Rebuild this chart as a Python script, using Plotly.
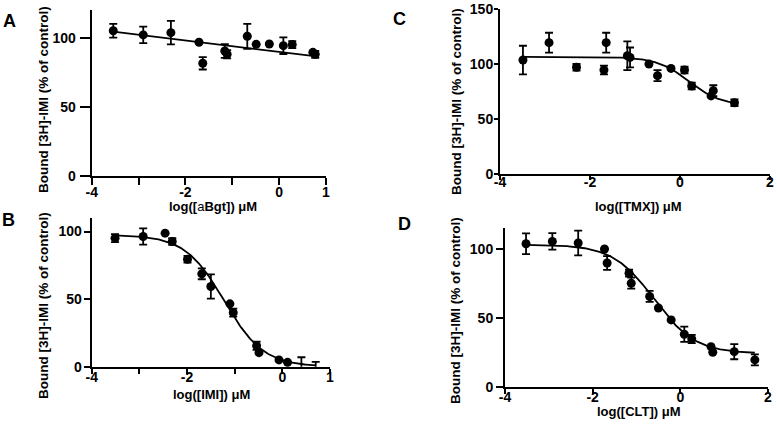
import numpy as np
import plotly.graph_objects as go

# ---------------- data ----------------
# Panel A: aBgt
a_x = [-3.54, -2.90, -2.31, -1.71, -1.63, -1.16, -1.11, -0.68, -0.49, -0.21, 0.09, 0.28, 0.72, 0.77]
a_y = [105, 102, 103.6, 96.7, 81.5, 90.4, 88, 101, 95.2, 95.4, 94.2, 95, 89.4, 88]
a_err = [5, 6, 8.5, 0, 4.5, 5, 3, 9, 0, 0, 6, 2.5, 0, 2.5]
a_fit_intercept = 89.75
a_fit_slope = -4.11
a_fit_range = (-3.54, 0.84)

# Panel B: IMI
b_x = [-3.51, -2.92, -2.46, -2.31, -1.99, -1.69, -1.50, -1.10, -1.03, -0.54, -0.49, -0.07, 0.11, 0.40, 0.70]
b_y = [95.1, 96.3, 98.8, 92.6, 79.5, 68.7, 59.3, 46.5, 40, 15.5, 10.4, 5, 3.2, -2.5, -2.5]
b_err_plus = [3, 6, 0, 2.5, 2.5, 4, 9, 0, 3, 3, 0, 0, 0, 9.5, 6]
b_err_minus = [3, 6, 0, 2.5, 2.5, 4, 9, 0, 3, 3, 0, 0, 0, 0, 0]
b_fit = dict(top=97.5, bottom=0.0, logic50=-1.22, hill=1.05)
b_fit_range = (-3.51, 0.70)

# Panel C: TMX
c_x = [-3.49, -2.91, -2.30, -1.69, -1.64, -1.17, -1.11, -0.69, -0.50, -0.20, 0.10, 0.26, 0.69, 0.74, 1.21]
c_y = [103.6, 119.4, 97, 94.5, 119.4, 107.5, 106, 100, 89.4, 96, 94.5, 80, 71, 75.7, 64.8]
c_err = [13, 9, 3, 4, 9, 13, 9, 0, 5, 0, 3, 3, 0, 5, 3]
c_fit = dict(top=106.5, bottom=62.0, logic50=0.2, hill=1.2)
c_fit_range = (-3.49, 1.21)

# Panel D: CLT
d_x = [-3.52, -2.92, -2.33, -1.73, -1.67, -1.17, -1.12, -0.70, -0.50, -0.21, 0.09, 0.26, 0.70, 0.74, 1.23, 1.70]
d_y = [103.6, 105.3, 104.1, 99.8, 89.6, 82.3, 75, 65.4, 57, 48.4, 38, 34.6, 29, 25, 25.4, 19.4]
d_err = [7.5, 6, 9, 0, 5, 2.5, 4, 4, 0, 0, 5.5, 3, 0, 0, 5.5, 4]
d_fit = dict(top=103.0, bottom=24.0, logic50=-0.6, hill=0.92)
d_fit_range = (-3.52, 1.70)

y_title = "Bound [3H]-IMI (% of control)"
x_titles = ["log([<span style='font-weight:normal'>a</span>Bgt]) μM", "log([IMI]) μM",
            "log([TMX]) μM", "log([CLT]) μM"]
panel_letters = ["A", "B", "C", "D"]

# ---------------- helpers ----------------
W, H = 777, 424
FONT = "Arial, Liberation Sans, sans-serif"


def px(x):
    return x / W


def py(y):
    return 1 - y / H


def logistic(x, top, bottom, logic50, hill):
    return bottom + (top - bottom) / (1 + 10 ** (hill * (x - logic50)))


fig = go.Figure()


def add_panel(i, xs, ys, eplus, eminus, fit_x, fit_y):
    xa = "x" if i == 1 else f"x{i}"
    ya = "y" if i == 1 else f"y{i}"
    fig.add_trace(go.Scatter(x=fit_x, y=fit_y, mode="lines", xaxis=xa, yaxis=ya,
                             line=dict(color="black", width=1.8), showlegend=False,
                             hoverinfo="skip"))
    fig.add_trace(go.Scatter(x=xs, y=ys, mode="markers", xaxis=xa, yaxis=ya,
                             marker=dict(color="black", size=9),
                             error_y=dict(type="data", array=eplus, arrayminus=eminus,
                                          symmetric=False, color="black", thickness=1.8, width=4),
                             cliponaxis=False, showlegend=False))


# A
fa = np.linspace(a_fit_range[0], a_fit_range[1], 60)
add_panel(1, a_x, a_y, a_err, a_err, fa, a_fit_intercept + a_fit_slope * fa)
# B
fb = np.linspace(b_fit_range[0], b_fit_range[1], 200)
add_panel(2, b_x, b_y, b_err_plus, b_err_minus, fb, logistic(fb, **b_fit))
# C
fc = np.linspace(c_fit_range[0], c_fit_range[1], 200)
add_panel(3, c_x, c_y, c_err, c_err, fc, logistic(fc, **c_fit))
# D
fd = np.linspace(d_fit_range[0], d_fit_range[1], 200)
add_panel(4, d_x, d_y, d_err, d_err, fd, logistic(fd, **d_fit))

tickfont = dict(family=FONT, size=14, color="black", weight="bold")
axis_common = dict(showline=True, linecolor="black", linewidth=2, ticks="outside",
                   tickwidth=2, tickcolor="black", showgrid=False,
                   zeroline=False, tickfont=tickfont, automargin=False)

# pixel boxes: (x_left, x_right, y_bottom, y_top)
boxes = [(91.7, 326, 176, 10), (91.7, 330, 366.7, 218),
         (500, 770, 174, 9), (505, 768, 386.7, 228)]
xranges = [[-4, 1], [-4, 1], [-4, 2], [-4, 2]]
yranges = [[0, 120], [0, 110], [0, 150], [0, 115]]
xtickvals = [[-4, -3, -2, -1, 0, 1], [-4, -3, -2, -1, 0, 1], [-4, -2, 0, 2], [-4, -2, 0, 2]]
xticktext = [["-4", "", "-2", "", "0", "1"], ["-4", "", "-2", "", "0", "1"],
             ["-4", "-2", "0", "2"], ["-4", "-2", "0", "2"]]
ytickvals = [[0, 50, 100], [0, 50, 100], [0, 50, 100, 150], [0, 50, 100]]
x_ticklen = [7, 5, 4, 5]
y_ticklen = [10, 6, 4, 7]
x_standoff = [-5, -9, -10, -9]
y_standoff = [1, -1, -2, 0]

layout = {}
for i in range(4):
    xl, xr, yb, yt = boxes[i]
    xn = "xaxis" if i == 0 else f"xaxis{i+1}"
    yn = "yaxis" if i == 0 else f"yaxis{i+1}"
    anchor_x = "y" if i == 0 else f"y{i+1}"
    anchor_y = "x" if i == 0 else f"x{i+1}"
    layout[xn] = dict(axis_common, domain=[px(xl), px(xr)], range=xranges[i],
                      tickvals=xtickvals[i], ticktext=xticktext[i], anchor=anchor_x,
                      ticklen=x_ticklen[i], ticklabelstandoff=x_standoff[i])
    layout[yn] = dict(axis_common, domain=[py(yb), py(yt)], range=yranges[i],
                      tickvals=ytickvals[i], anchor=anchor_y,
                      ticklen=y_ticklen[i], ticklabelstandoff=y_standoff[i])

annotations = []
ytitle_pos = [(43, 100), (43, 306), (456, 102), (455, 311)]
xtitle_pos = [(213, 206), (211, 394), (638, 206), (639, 411)]
letter_pos = [(9, 21), (8, 220), (399, 19), (404, 224)]
for i in range(4):
    annotations.append(dict(text=y_title, x=px(ytitle_pos[i][0]), y=py(ytitle_pos[i][1]),
                            xref="paper", yref="paper", showarrow=False, textangle=-90,
                            xanchor="center", yanchor="middle",
                            font=dict(family=FONT, size=13.5, color="black", weight="bold")))
    annotations.append(dict(text=x_titles[i], x=px(xtitle_pos[i][0]), y=py(xtitle_pos[i][1]),
                            xref="paper", yref="paper", showarrow=False,
                            xanchor="center", yanchor="middle",
                            font=dict(family=FONT, size=13, color="black", weight="bold")))
    annotations.append(dict(text=panel_letters[i], x=px(letter_pos[i][0]), y=py(letter_pos[i][1]),
                            xref="paper", yref="paper", showarrow=False,
                            xanchor="center", yanchor="middle",
                            font=dict(family=FONT, size=18, color="black", weight="bold")))

fig.update_layout(width=W, height=H, margin=dict(l=0, r=0, t=0, b=0, autoexpand=False),
                  autosize=False, plot_bgcolor="white", paper_bgcolor="white",
                  annotations=annotations, **layout)

fig.write_html("out.html", config={"displayModeBar": False, "responsive": False},
               post_script="document.body.style.margin='0';document.body.style.overflow='hidden';")
